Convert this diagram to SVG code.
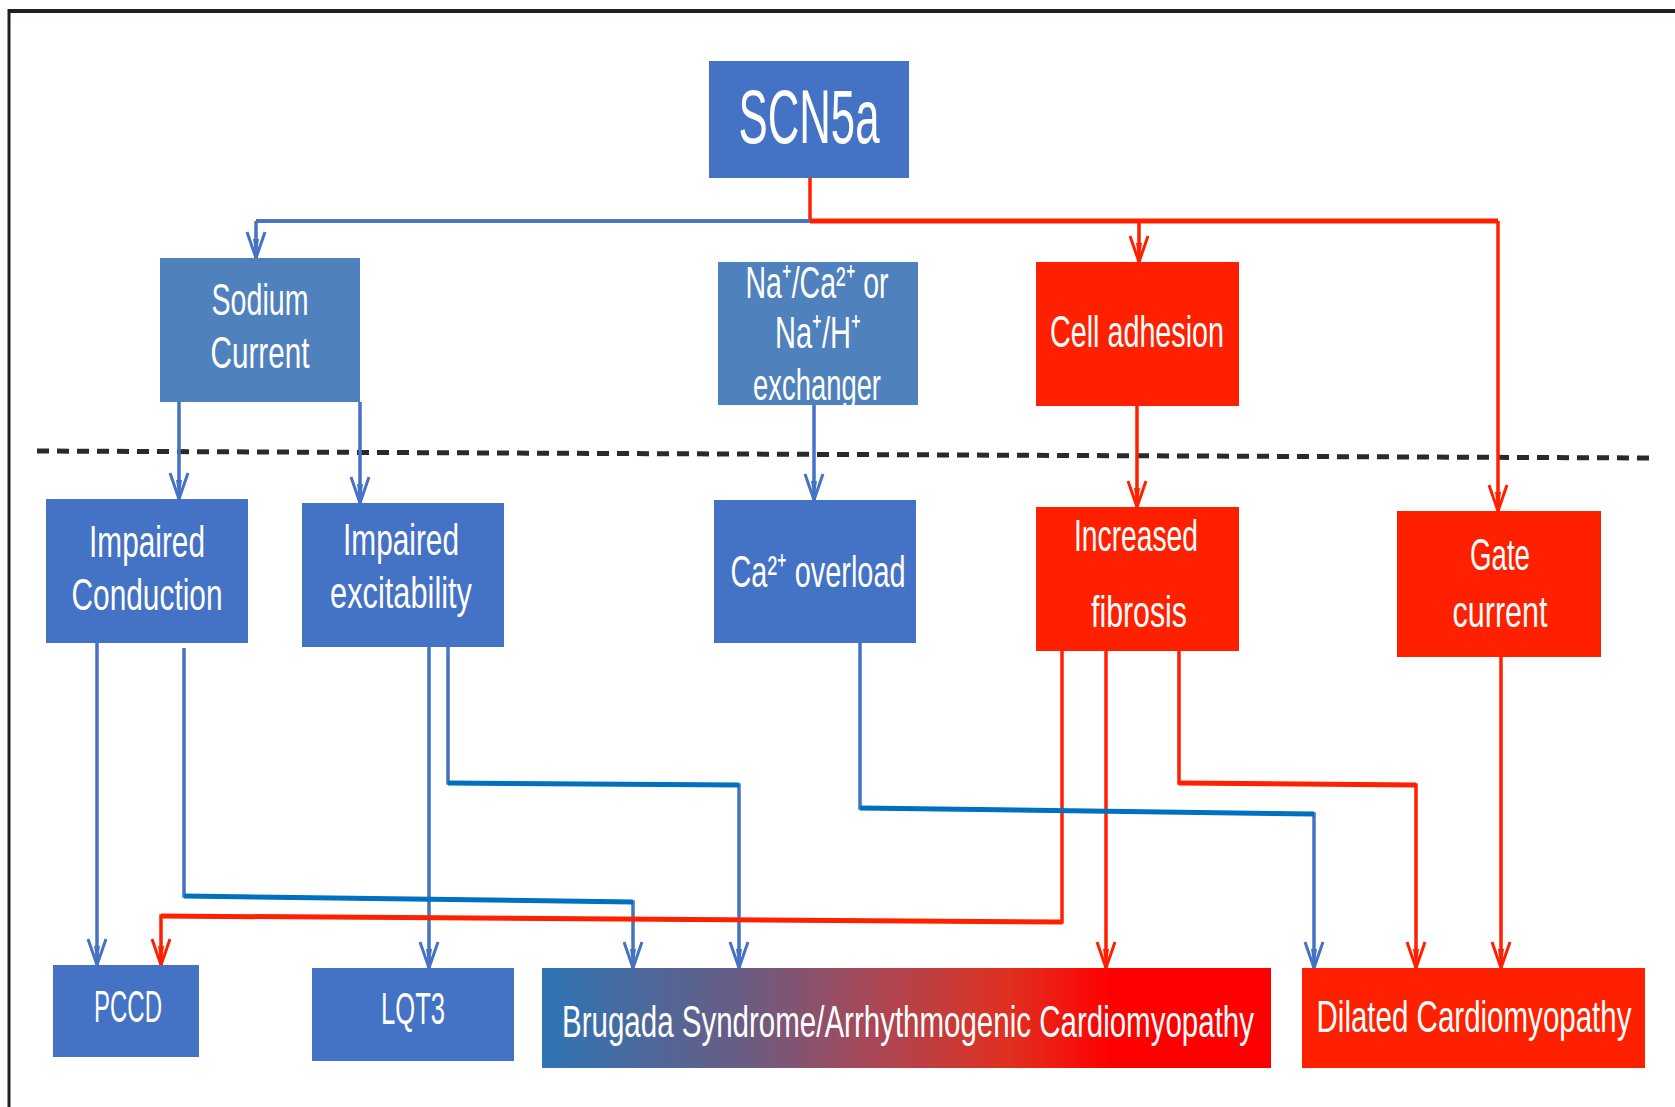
<svg xmlns="http://www.w3.org/2000/svg" width="1675" height="1107" viewBox="0 0 1675 1107">
<style>
.t{font-family:"Liberation Sans",Arial,sans-serif;fill:#fff;text-anchor:middle;font-size:30px}
.big{font-size:51px}
.b1{fill:#4472C4}
.b2{fill:#4F81BD}
.r{fill:#FF2000}
.cb{fill:none;stroke:#4472C4;stroke-width:3.5}
.cb2{fill:none;stroke:#0070C0;stroke-width:5}
.cr{fill:none;stroke:#FF2000;stroke-width:3.5}
.cr2{fill:none;stroke:#FF2000;stroke-width:5}
</style>
<defs>
<linearGradient id="gBr" x1="0" y1="0" x2="1" y2="0">
<stop offset="0" stop-color="#2E75B6"/>
<stop offset="0.28" stop-color="#6A5C82"/>
<stop offset="0.45" stop-color="#A84858"/>
<stop offset="0.64" stop-color="#E03020"/>
<stop offset="0.78" stop-color="#FF0000"/>
<stop offset="1" stop-color="#FF0000"/>
</linearGradient>
<marker id="aB" markerUnits="userSpaceOnUse" viewBox="0 0 30 22" markerWidth="30" markerHeight="22" refX="29" refY="11" orient="auto">
<path d="M3,2 L29,11 L3,20" fill="none" stroke="#4472C4" stroke-width="3"/>
<path d="M10,8 L29,11 L10,14 Z" fill="#4472C4"/>
</marker>
<marker id="aR" markerUnits="userSpaceOnUse" viewBox="0 0 30 22" markerWidth="30" markerHeight="22" refX="29" refY="11" orient="auto">
<path d="M3,2 L29,11 L3,20" fill="none" stroke="#FF2000" stroke-width="3"/>
<path d="M10,8 L29,11 L10,14 Z" fill="#FF2000"/>
</marker>
</defs>
<rect x="0" y="0" width="1675" height="1107" fill="#fff"/>
<g id="frame">
<line x1="8" y1="11" x2="1675" y2="11" stroke="#231F20" stroke-width="4"/>
<line x1="9" y1="9" x2="9" y2="1107" stroke="#231F20" stroke-width="3"/>
<line x1="37" y1="451" x2="1650" y2="458" stroke="#2a2a2a" stroke-width="5" stroke-dasharray="12 8"/>
</g>
<g id="connectors">
<path class="cr" d="M810,178 V221"/>
<path class="cb" d="M810,221 H256"/>
<path class="cb" d="M256,221 V258" marker-end="url(#aB)"/>
<path class="cr" d="M810,221 H1498"/>
<path class="cr" d="M1139,221 V262" marker-end="url(#aR)"/>
<path class="cr" d="M1498,221 V511" marker-end="url(#aR)"/>
<path class="cb" d="M179,402 V499" marker-end="url(#aB)"/>
<path class="cb" d="M360,402 V503" marker-end="url(#aB)"/>
<path class="cb" d="M814,405 V500" marker-end="url(#aB)"/>
<path class="cr" d="M1137,406 V507" marker-end="url(#aR)"/>
<path class="cb" d="M97,643 V965" marker-end="url(#aB)"/>
<path class="cb" d="M184,648 V896 L633,902 V968" marker-end="url(#aB)"/>
<path class="cb" d="M429,647 V968" marker-end="url(#aB)"/>
<path class="cb" d="M448,647 V783 L739,785 V968" marker-end="url(#aB)"/>
<path class="cb" d="M860,643 V808 L1314,814 V968" marker-end="url(#aB)"/>
<path class="cr" d="M1062,651 V922 L161,916 V965" marker-end="url(#aR)"/>
<path class="cr" d="M1106,651 V968" marker-end="url(#aR)"/>
<path class="cr" d="M1179,651 V783 L1416,785 V968" marker-end="url(#aR)"/>
<path class="cr" d="M1501,657 V968" marker-end="url(#aR)"/>
<path class="cb" d="M256,221 H810" stroke-width="5"/>
<path class="cr2" d="M810,221 H1498"/>
<path class="cb2" d="M184,896 L633,902"/>
<path class="cb2" d="M448,783 L739,785"/>
<path class="cb2" d="M860,808 L1314,814"/>
<path class="cr2" d="M1062,922 L161,916"/>
<path class="cr2" d="M1179,783 L1416,785"/>
</g>
<g id="scn5a"><rect class="b1" x="709" y="61" width="200" height="117"/><text class="t big" transform="translate(809,143) scale(1,1.5)" textLength="141" lengthAdjust="spacingAndGlyphs">SCN5a</text></g>
<g id="sodium"><rect class="b2" x="160" y="258" width="200" height="144"/><text class="t" transform="translate(260,315) scale(1,1.5)" textLength="97" lengthAdjust="spacingAndGlyphs">Sodium</text><text class="t" transform="translate(260,368) scale(1,1.5)" textLength="99" lengthAdjust="spacingAndGlyphs">Current</text></g>
<g id="exchanger"><rect class="b2" x="718" y="262" width="200" height="143"/>
<text class="t" transform="translate(817,298) scale(1,1.5)" textLength="143" lengthAdjust="spacingAndGlyphs">Na⁺/Ca²⁺ or</text>
<text class="t" transform="translate(818,348) scale(1,1.5)" textLength="86" lengthAdjust="spacingAndGlyphs">Na⁺/H⁺</text>
<text class="t" transform="translate(817,400) scale(1,1.5)" textLength="128" lengthAdjust="spacingAndGlyphs">exchanger</text></g>
<g id="celladhesion"><rect class="r" x="1036" y="262" width="203" height="144"/><text class="t" transform="translate(1137,347) scale(1,1.5)" textLength="174" lengthAdjust="spacingAndGlyphs">Cell adhesion</text></g>
<g id="impcond"><rect class="b1" x="46" y="499" width="202" height="144"/><text class="t" transform="translate(147,557) scale(1,1.5)" textLength="116" lengthAdjust="spacingAndGlyphs">Impaired</text><text class="t" transform="translate(147,610) scale(1,1.5)" textLength="151" lengthAdjust="spacingAndGlyphs">Conduction</text></g>
<g id="impexc"><rect class="b1" x="302" y="503" width="202" height="144"/><text class="t" transform="translate(401,555) scale(1,1.5)" textLength="116" lengthAdjust="spacingAndGlyphs">Impaired</text><text class="t" transform="translate(401,608) scale(1,1.5)" textLength="142" lengthAdjust="spacingAndGlyphs">excitability</text></g>
<g id="caoverload"><rect class="b1" x="714" y="500" width="202" height="143"/><text class="t" transform="translate(818,587) scale(1,1.5)" textLength="175" lengthAdjust="spacingAndGlyphs">Ca²⁺ overload</text></g>
<g id="fibrosis"><rect class="r" x="1036" y="507" width="203" height="144"/><text class="t" transform="translate(1136,551) scale(1,1.5)" textLength="124" lengthAdjust="spacingAndGlyphs">Increased</text><text class="t" transform="translate(1139,627) scale(1,1.5)" textLength="96" lengthAdjust="spacingAndGlyphs">fibrosis</text></g>
<g id="gate"><rect class="r" x="1397" y="511" width="204" height="146"/><text class="t" transform="translate(1500,570) scale(1,1.5)" textLength="60" lengthAdjust="spacingAndGlyphs">Gate</text><text class="t" transform="translate(1500,627) scale(1,1.5)" textLength="95" lengthAdjust="spacingAndGlyphs">current</text></g>
<g id="pccd"><rect class="b1" x="53" y="965" width="146" height="92"/><text class="t" transform="translate(128,1022) scale(1,1.5)" textLength="68" lengthAdjust="spacingAndGlyphs">PCCD</text></g>
<g id="lqt3"><rect class="b1" x="312" y="968" width="202" height="93"/><text class="t" transform="translate(413,1024) scale(1,1.5)" textLength="64" lengthAdjust="spacingAndGlyphs">LQT3</text></g>
<g id="brugada"><rect fill="url(#gBr)" x="542" y="968" width="729" height="100"/><text class="t" transform="translate(908,1037) scale(1,1.5)" textLength="692" lengthAdjust="spacingAndGlyphs">Brugada Syndrome/Arrhythmogenic Cardiomyopathy</text></g>
<g id="dilated"><rect class="r" x="1302" y="968" width="343" height="100"/><text class="t" transform="translate(1474,1032) scale(1,1.5)" textLength="315" lengthAdjust="spacingAndGlyphs">Dilated Cardiomyopathy</text></g>
</svg>
